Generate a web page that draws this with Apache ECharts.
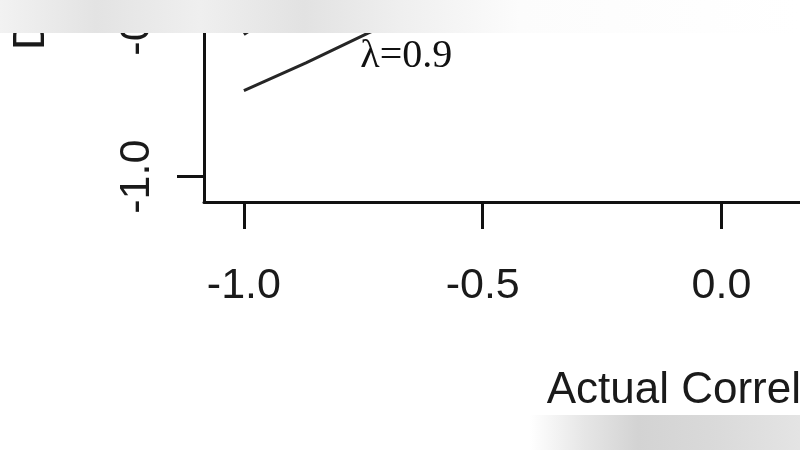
<!DOCTYPE html>
<html>
<head>
<meta charset="utf-8">
<title>Correlation chart</title>
<script src="https://cdn.jsdelivr.net/npm/echarts@6.0.0/dist/echarts.min.js"></script>
<style>
  html, body { margin: 0; padding: 0; background: #fff; }
  #chart { width: 800px; height: 450px; }
</style>
</head>
<body>
<div id="chart"></div>
<script>
// tick values
const xTicks = [-1.0, -0.5, 0.0, 0.5, 1.0];
const yTicks = [-1.0, -0.5, 0.0, 0.5, 1.0];

// lambda = 0.9 curve (visible part)
const lambda09X = [-1.0, -0.87, -0.74, -0.6];
const lambda09Y = [-0.728, -0.64, -0.546, -0.45];

// other curve, mostly out of view
const otherX = [-1.0, -0.97, -0.9];
const otherY = [-0.55, -0.52, -0.44];

const lambdaLabel = 'λ=0.9';
const labelPos = [-0.66, -0.62];

const chart = echarts.init(document.getElementById('chart'));

function pairs(xs, ys) {
    return xs.map((x, i) => [x, ys[i]]);
}

const axisFont = { fontFamily: 'Liberation Sans', fontSize: 43, color: '#1a1a1a' };

chart.setOption({
    animation: false,
    backgroundColor: '#fff',
    grid: {
        left: 204,
        right: -439,
        top: -481,
        bottom: 248,
        outerBoundsMode: 'none',
        containLabel: false
    },
    xAxis: {
        type: 'value',
        min: -1.0835,
        max: 1.0835,
        name: 'Actual Correlation',
        nameLocation: 'middle',
        nameGap: 167,
        nameTextStyle: Object.assign({}, axisFont, { fontSize: 44 }),
        splitLine: { show: false },
        axisLine: { onZero: false, lineStyle: { color: '#111', width: 3 } },
        axisTick: { length: 27, customValues: xTicks, lineStyle: { color: '#111', width: 3 } },
        axisLabel: Object.assign({ margin: 63, customValues: xTicks, formatter: v => v.toFixed(1) }, axisFont)
    },
    yAxis: {
        type: 'value',
        min: -1.08,
        max: 1.08,
        name: 'Derived Correlation',
        nameLocation: 'middle',
        nameGap: 150,
        nameTextStyle: Object.assign({}, axisFont, { fontSize: 44 }),
        splitLine: { show: false },
        axisLine: { onZero: false, lineStyle: { color: '#111', width: 3 } },
        axisTick: { length: 27, customValues: yTicks, lineStyle: { color: '#111', width: 3 } },
        axisLabel: Object.assign({ margin: 45, rotate: 90, customValues: yTicks, formatter: v => v.toFixed(1) }, axisFont)
    },
    series: [
        {
            type: 'line',
            data: pairs(lambda09X, lambda09Y),
            showSymbol: false,
            lineStyle: { color: '#262626', width: 3 },
            markPoint: {
                symbol: 'circle',
                symbolSize: 0,
                data: [{ coord: labelPos }],
                label: {
                    show: true,
                    position: 'inside',
                    formatter: lambdaLabel,
                    fontFamily: 'Liberation Serif',
                    fontSize: 40,
                    color: '#111'
                }
            }
        },
        {
            type: 'line',
            data: pairs(otherX, otherY),
            showSymbol: false,
            lineStyle: { color: '#262626', width: 3 }
        }
    ],
    graphic: [
        {
            type: 'rect',
            z: 100,
            shape: { x: 0, y: 0, width: 800, height: 33 },
            style: {
                fill: new echarts.graphic.LinearGradient(0, 0, 1, 0, [
                    { offset: 0, color: '#f2f2f2' },
                    { offset: 0.12, color: '#e3e3e3' },
                    { offset: 0.25, color: '#efefef' },
                    { offset: 0.38, color: '#e2e2e2' },
                    { offset: 0.5, color: '#efefef' },
                    { offset: 0.65, color: '#fcfcfc' },
                    { offset: 1, color: '#ffffff' }
                ])
            }
        },
        {
            type: 'rect',
            z: 100,
            shape: { x: 530, y: 415, width: 270, height: 35 },
            style: {
                fill: new echarts.graphic.LinearGradient(0, 0, 1, 0, [
                    { offset: 0, color: '#ffffff' },
                    { offset: 0.2, color: '#e6e6e6' },
                    { offset: 0.4, color: '#d3d3d3' },
                    { offset: 0.7, color: '#dadada' },
                    { offset: 1, color: '#e4e4e4' }
                ])
            }
        }
    ]
});

window.addEventListener('resize', function() {
    chart.resize();
});
</script>
</body>
</html>
